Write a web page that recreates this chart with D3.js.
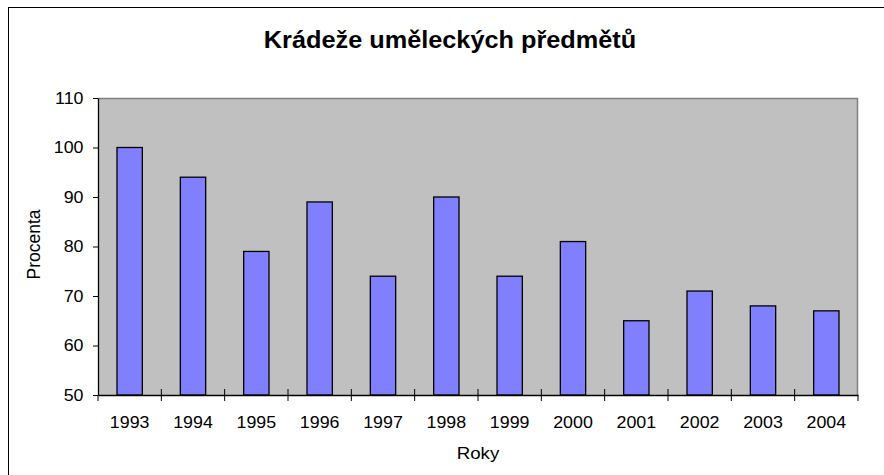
<!DOCTYPE html>
<html>
<head>
<meta charset="utf-8">
<script src="https://cdn.jsdelivr.net/npm/d3@7"></script>
<style>
  body { margin: 0; background: #fff; }
  text { font-family: "Liberation Sans", Arial, sans-serif; fill: #000; }
</style>
</head>
<body>
<div id="chart"></div>
<script>
// data
const years = ["1993", "1994", "1995", "1996", "1997", "1998", "1999", "2000", "2001", "2002", "2003", "2004"];
const values = [100, 94, 79, 89, 74, 90, 74, 81, 65, 71, 68, 67];
const yTicks = [50, 60, 70, 80, 90, 100, 110];
const title = "Krádeže uměleckých předmětů";
const xTitle = "Roky";
const yTitle = "Procenta";

const W = 884, H = 475;
const plot = {left: 98, right: 858, top: 98, bottom: 395};
const sx = 1.08; // the picture is a bit wider than tall, so text is stretched sideways

const svg = d3.select("#chart").append("svg")
  .attr("width", W)
  .attr("height", H);

// outer frame (runs past the right and bottom edge)
svg.append("rect")
  .attr("x", 8.5).attr("y", 7.5)
  .attr("width", 884).attr("height", 500)
  .attr("fill", "#fff")
  .attr("stroke", "#000")
  .attr("stroke-width", 1);

// scales
const x = d3.scaleBand()
  .domain(years)
  .range([plot.left, plot.right])
  .paddingInner(0.6)
  .paddingOuter(0.3);

const y = d3.scaleLinear()
  .domain([50, 110])
  .range([plot.bottom, plot.top]);

// plot area
svg.append("rect")
  .attr("x", plot.left).attr("y", plot.top)
  .attr("width", plot.right - plot.left)
  .attr("height", plot.bottom - plot.top)
  .attr("fill", "#c0c0c0");

svg.append("path")
  .attr("d", `M${plot.left},${plot.top + 0.5}H${plot.right - 0.5}V${plot.bottom}`)
  .attr("fill", "none")
  .attr("stroke", "#808080")
  .attr("stroke-width", 1.5);

// bars
svg.append("g")
  .selectAll("rect")
  .data(values)
  .join("rect")
    .attr("x", (d, i) => x(years[i]))
    .attr("y", d => y(d))
    .attr("width", x.bandwidth())
    .attr("height", d => y(50) - y(d))
    .attr("fill", "#8080ff")
    .attr("stroke", "#000")
    .attr("stroke-width", 1.3);

// y axis
const gy = svg.append("g")
  .attr("transform", `translate(${plot.left},0)`)
  .call(d3.axisLeft(y).tickValues(yTicks).tickSize(5).tickPadding(9).tickSizeOuter(0));
gy.select(".domain").attr("stroke", "#000").attr("stroke-width", 1.3);
gy.selectAll("line").attr("stroke", "#000");
gy.selectAll("text")
  .attr("font-size", 16.5)
  .attr("font-family", "Liberation Sans, Arial, sans-serif")
  .attr("x", -14.5 / sx)
  .attr("transform", `scale(${sx},1)`);

// x axis: labels centred in bands, ticks on band boundaries
const gx = svg.append("g")
  .attr("transform", `translate(0,${plot.bottom})`)
  .call(d3.axisBottom(x).tickSize(0).tickPadding(21).tickSizeOuter(0));
gx.select(".domain").attr("stroke", "#000").attr("stroke-width", 1.3);
gx.selectAll("text")
  .attr("font-size", 16.5)
  .attr("font-family", "Liberation Sans, Arial, sans-serif")
  .attr("transform", `scale(${sx},1)`);

const step = x.step();
const bounds = d3.range(years.length + 1).map(i => plot.left + i * step);
svg.append("g")
  .selectAll("line")
  .data(bounds)
  .join("line")
    .attr("x1", d => d).attr("x2", d => d)
    .attr("y1", (d, i) => (i === 0 || i === years.length) ? plot.bottom : plot.bottom - 6)
    .attr("y2", plot.bottom + 6)
    .attr("stroke", "#000");

// titles
svg.append("text")
  .attr("transform", `translate(450,48) scale(1.1,1)`)
  .attr("text-anchor", "middle")
  .attr("font-size", 23)
  .attr("font-weight", "bold")
  .text(title);

svg.append("text")
  .attr("transform", `translate(${(plot.left + plot.right) / 2},459) scale(1.1,1)`)
  .attr("text-anchor", "middle")
  .attr("font-size", 17)
  .text(xTitle);

svg.append("text")
  .attr("transform", `translate(40,${(plot.top + plot.bottom) / 2 - 2}) rotate(-90) scale(1,1.1)`)
  .attr("text-anchor", "middle")
  .attr("font-size", 17.5)
  .text(yTitle);
</script>
</body>
</html>
